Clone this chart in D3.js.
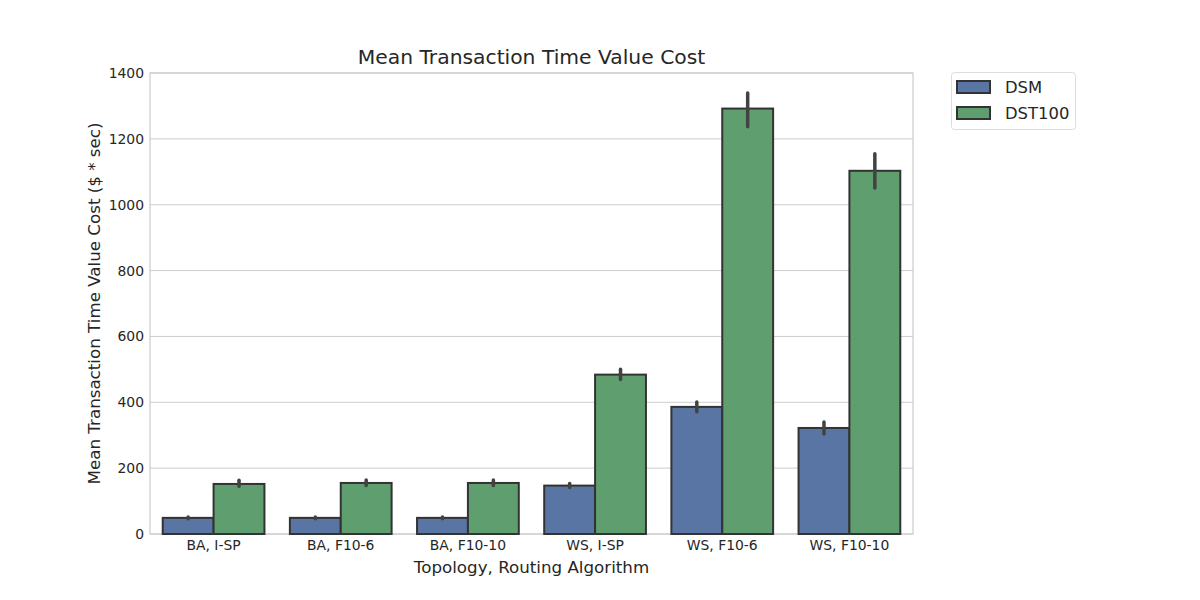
<!DOCTYPE html>
<html lang="en">
<head>
    <meta charset="UTF-8">
    <title>Mean Transaction Time Value Cost</title>
    <script src="https://d3js.org/d3.v7.min.js"></script>
    <style>
        body { margin: 0; background: #fff; }
        text { font-family: "DejaVu Sans", sans-serif; fill: #262626; }
    </style>
</head>
<body>
    <svg width="1200" height="600"></svg>

    <script>
        // Data
        const categories = ["BA, I-SP", "BA, F10-6", "BA, F10-10", "WS, I-SP", "WS, F10-6", "WS, F10-10"];
        const series = ["DSM", "DST100"];
        const dsmMean = [49, 49, 49, 147, 386, 322];
        const dsmLow  = [46, 46, 46, 141, 371, 304];
        const dsmHigh = [52, 52, 52, 153, 401, 340];
        const dstMean = [152, 155, 155, 484, 1292, 1103];
        const dstLow  = [145, 147, 147, 469, 1237, 1051];
        const dstHigh = [163, 164, 164, 500, 1339, 1155];
        const yTicks = [0, 200, 400, 600, 800, 1000, 1200, 1400];
        const colors = ["#5975a4", "#5f9e6e"];

        const margin = { left: 150, right: 287, top: 73, bottom: 66 };
        const width = 1200, height = 600;

        const svg = d3.select("svg");

        const x = d3.scaleBand()
            .domain(categories)
            .range([margin.left, width - margin.right])
            .paddingInner(0.2)
            .paddingOuter(0.1);

        const xHue = d3.scaleBand()
            .domain(series)
            .range([0, x.bandwidth()]);

        const y = d3.scaleLinear()
            .domain([0, 1400])
            .range([height - margin.bottom, margin.top]);

        // gridlines
        svg.append("g")
            .selectAll("line")
            .data(yTicks)
            .enter().append("line")
            .attr("x1", margin.left)
            .attr("x2", width - margin.right)
            .attr("y1", d => y(d))
            .attr("y2", d => y(d))
            .attr("stroke", "#cccccc")
            .attr("stroke-width", 1);

        // frame
        svg.append("rect")
            .attr("x", margin.left)
            .attr("y", margin.top)
            .attr("width", width - margin.left - margin.right)
            .attr("height", height - margin.top - margin.bottom)
            .attr("fill", "none")
            .attr("stroke", "#cccccc")
            .attr("stroke-width", 1.2);

        // bars
        const rows = [];
        categories.forEach((c, i) => {
            rows.push({ cat: c, s: "DSM", v: dsmMean[i], lo: dsmLow[i], hi: dsmHigh[i], k: 0 });
            rows.push({ cat: c, s: "DST100", v: dstMean[i], lo: dstLow[i], hi: dstHigh[i], k: 1 });
        });

        svg.append("g")
            .selectAll("rect")
            .data(rows)
            .enter().append("rect")
            .attr("x", d => x(d.cat) + xHue(d.s))
            .attr("y", d => y(d.v))
            .attr("width", xHue.bandwidth())
            .attr("height", d => y(0) - y(d.v))
            .attr("fill", d => colors[d.k])
            .attr("stroke", "#333333")
            .attr("stroke-width", 2);

        // error bars
        svg.append("g")
            .selectAll("line")
            .data(rows)
            .enter().append("line")
            .attr("x1", d => x(d.cat) + xHue(d.s) + xHue.bandwidth() / 2)
            .attr("x2", d => x(d.cat) + xHue(d.s) + xHue.bandwidth() / 2)
            .attr("y1", d => y(d.lo))
            .attr("y2", d => y(d.hi))
            .attr("stroke", "#424242")
            .attr("stroke-width", 3.5)
            .attr("stroke-linecap", "round");

        // axes
        const xAxis = svg.append("g")
            .attr("transform", `translate(0, ${height - margin.bottom})`)
            .call(d3.axisBottom(x).tickSize(0).tickPadding(6));
        xAxis.select(".domain").remove();
        xAxis.selectAll("text").attr("font-size", 13.9).style("fill", "#262626");

        const yAxis = svg.append("g")
            .attr("transform", `translate(${margin.left}, 0)`)
            .call(d3.axisLeft(y).tickValues(yTicks).tickFormat(d3.format("d")).tickSize(0).tickPadding(6));
        yAxis.select(".domain").remove();
        yAxis.selectAll("text").attr("font-size", 13.9).style("fill", "#262626");

        // labels
        svg.append("text")
            .attr("x", (margin.left + width - margin.right) / 2)
            .attr("y", 64)
            .attr("text-anchor", "middle")
            .attr("font-size", 20.3)
            .text("Mean Transaction Time Value Cost");

        svg.append("text")
            .attr("x", (margin.left + width - margin.right) / 2)
            .attr("y", 573)
            .attr("text-anchor", "middle")
            .attr("font-size", 16.7)
            .text("Topology, Routing Algorithm");

        svg.append("text")
            .attr("transform", `translate(100, ${(margin.top + height - margin.bottom) / 2}) rotate(-90)`)
            .attr("text-anchor", "middle")
            .attr("font-size", 16.7)
            .text("Mean Transaction Time Value Cost ($ * sec)");

        // legend
        const legend = svg.append("g");
        legend.append("rect")
            .attr("x", 951.5).attr("y", 72.5)
            .attr("width", 124).attr("height", 57)
            .attr("rx", 3)
            .attr("fill", "#fff")
            .attr("stroke", "#dddddd");
        series.forEach((s, i) => {
            legend.append("rect")
                .attr("x", 957).attr("y", 81 + i * 26)
                .attr("width", 33).attr("height", 12)
                .attr("fill", colors[i])
                .attr("stroke", "#333333")
                .attr("stroke-width", 2);
            legend.append("text")
                .attr("x", 1005).attr("y", 93 + i * 26)
                .attr("font-size", 16.4)
                .text(s);
        });
    </script>
</body>
</html>
